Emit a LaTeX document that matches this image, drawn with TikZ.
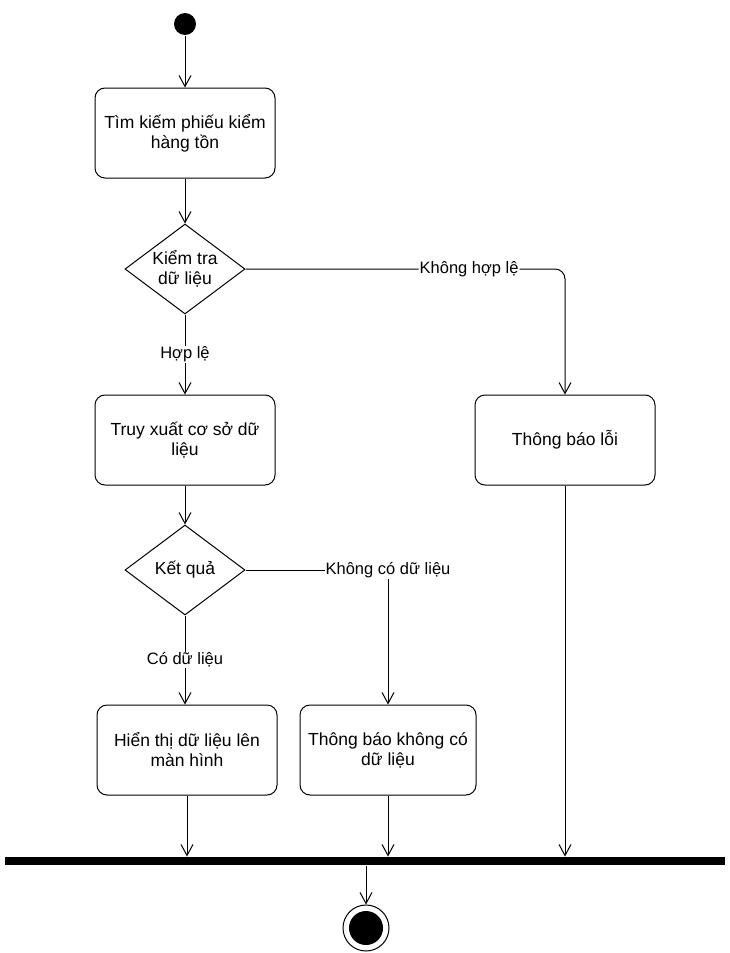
\documentclass[tikz,border=0pt]{standalone}
\usepackage{fontspec}
\setmainfont{Liberation Sans}
\usetikzlibrary{shapes.geometric,arrows.meta}

\begin{document}
\begin{tikzpicture}[x=1pt,y=-1pt,line width=1pt,
  action/.style={draw,rounded corners=10pt,minimum width=180pt,minimum height=90pt,
    align=center,inner sep=2pt,font=\fontsize{17.5pt}{20pt}\selectfont},
  decision/.style={draw,diamond,minimum width=120pt,minimum height=90pt,inner sep=-12pt,
    align=center,font=\fontsize{17.5pt}{20pt}\selectfont},
  flow/.style={-{Straight Barb[length=11pt,width=12pt]}},
  lbl/.style={fill=white,inner sep=1pt,font=\fontsize{16.5pt}{19pt}\selectfont}]

\useasboundingbox (0,0) rectangle (729,953);

% activities and decisions
\node[circle,fill,minimum size=22pt,inner sep=0pt] (start) at (185,24) {};
\node[action] (search) at (185,133) {Tìm kiếm phiếu kiểm\\hàng tồn};
\node[decision] (check) at (185,269) {Kiểm tra\\dữ liệu};
\node[action] (fetch) at (185,440) {Truy xuất cơ sở dữ\\liệu};
\node[action] (error) at (565,440) {Thông báo lỗi};
\node[decision] (result) at (185,570) {Kết quả};
\node[action] (show) at (187,750) {Hiển thị dữ liệu lên\\màn hình};
\node[action,minimum width=176pt] (empty) at (388,750) {Thông báo không có\\dữ liệu};

% join bar and final state
\node[fill,minimum width=720pt,minimum height=8pt,inner sep=0pt] (bar) at (365,861) {};
\node[circle,draw,minimum size=46pt,inner sep=0pt] (end) at (366,928) {};
\fill (end.center) circle (17pt);

% control flow
\draw[flow] (start) -- (search);
\draw[flow] (search) -- (check);
\draw[flow] (check) -- node[lbl]{Hợp lệ} (fetch);
\draw[flow,rounded corners=10pt] (check.east)
  -- node[lbl,pos=0.7]{Không hợp lệ} (check.east -| error.north) -- (error.north);
\draw[flow] (fetch) -- (result);
\draw[flow] (result.south) -- node[lbl]{Có dữ liệu} (result.south |- show.north);
\draw[flow] (result.east)
  -- node[lbl,pos=1]{Không có dữ liệu} (result.east -| empty.north) -- (empty.north);
\draw[flow] (show.south) -- (show.south |- bar.north);
\draw[flow] (empty.south) -- (empty.south |- bar.north);
\draw[flow] (error.south) -- (error.south |- bar.north);
\draw[flow] (bar.south -| end) -- (end.north);
\end{tikzpicture}
\end{document}
